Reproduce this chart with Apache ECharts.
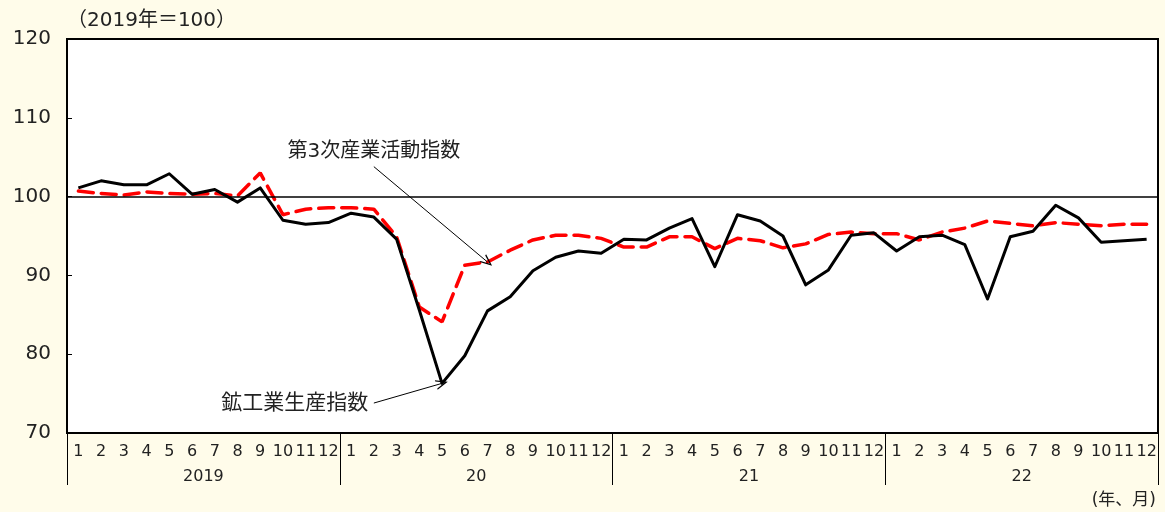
<!DOCTYPE html>
<html>
<head>
<meta charset="utf-8">
<script src="https://cdn.jsdelivr.net/npm/echarts@6/dist/echarts.min.js"></script>
<style>
  html, body { margin: 0; padding: 0; background: #FFFCEA; }
  #chart { width: 1165px; height: 512px; }
</style>
</head>
<body>
<div id="chart"></div>
<script>
// Monthly categories, 2019-01 .. 2022-12
const years = ['2019', '20', '21', '22'];
const monthLabels = ['1','2','3','4','5','6','7','8','9','10','11','12'];

// 鉱工業生産指数 (2019=100)
const iip = [
  101.1, 102.0, 101.5, 101.5, 102.9, 100.3, 100.9, 99.3, 101.1, 97.0, 96.5, 96.7,
  97.9, 97.4, 94.6, 85.6, 76.3, 79.8, 85.5, 87.3, 90.6, 92.3, 93.1, 92.8,
  94.6, 94.5, 96.0, 97.2, 91.1, 97.7, 96.9, 95.0, 88.8, 90.7, 95.1, 95.4,
  93.1, 94.9, 95.1, 93.9, 87.0, 94.9, 95.6, 98.9, 97.3, 94.2, 94.4, 94.6
];

// 第3次産業活動指数 (2019=100)
const ita = [
  100.7, 100.4, 100.2, 100.6, 100.4, 100.3, 100.4, 100.1, 103.0, 97.7, 98.4, 98.6,
  98.6, 98.4, 94.9, 86.0, 84.1, 91.3, 91.7, 93.2, 94.5, 95.1, 95.1, 94.7,
  93.6, 93.6, 94.9, 94.9, 93.4, 94.7, 94.4, 93.5, 94.0, 95.2, 95.5, 95.3,
  95.3, 94.5, 95.5, 96.0, 96.9, 96.6, 96.3, 96.7, 96.5, 96.3, 96.5, 96.5
];

const yTicks = { min: 70, max: 120, interval: 10 };

const categories = [];
years.forEach(y => monthLabels.forEach(m => categories.push(y + '-' + m)));

const FONT = '"DejaVu Sans", "Noto Sans CJK JP", sans-serif';
const TEXT = '#222';
const openArrow = 'path://M0,10 L5,0 L10,10 L8.6,10 L5,2.6 L1.4,10 Z';

const chart = echarts.init(document.getElementById('chart'));
chart.setOption({
  backgroundColor: '#FFFCEA',
  animation: false,
  textStyle: { fontFamily: FONT },
  title: [
    { text: '（2019年＝100）', left: 62, top: 6,
      textStyle: { fontSize: 20, fontWeight: 'normal', color: TEXT, fontFamily: FONT } },
    { text: '(年、月)', right: 4, top: 487,
      textStyle: { fontSize: 17, fontWeight: 'normal', color: TEXT, fontFamily: FONT } }
  ],
  grid: {
    left: 67, right: 7, top: 39, bottom: 79,
    show: true, backgroundColor: '#FFFFFF', borderColor: '#000', borderWidth: 2
  },
  xAxis: [
    {
      type: 'category',
      data: categories,
      boundaryGap: true,
      position: 'bottom',
      axisLine: { show: true, lineStyle: { color: '#000', width: 2 } },
      axisTick: { show: false },
      axisLabel: {
        interval: 0, margin: 11, fontSize: 16, color: TEXT, fontFamily: FONT,
        formatter: v => v.split('-')[1]
      },
      splitLine: { show: false }
    },
    {
      type: 'category',
      data: years,
      boundaryGap: true,
      position: 'bottom',
      offset: 0,
      axisLine: { show: false },
      axisTick: { show: true, length: 52, lineStyle: { color: '#000', width: 1 } },
      axisLabel: { interval: 0, margin: 36, fontSize: 16, color: TEXT, fontFamily: FONT },
      splitLine: { show: false }
    }
  ],
  yAxis: {
    type: 'value',
    min: yTicks.min, max: yTicks.max, interval: yTicks.interval,
    axisLine: { show: true, lineStyle: { color: '#000', width: 2 } },
    axisTick: { show: true, inside: true, length: 5, lineStyle: { color: '#000', width: 1 } },
    axisLabel: { fontSize: 20, color: TEXT, margin: 16, fontFamily: FONT },
    splitLine: { show: false }
  },
  series: [
    {
      name: '第3次産業活動指数',
      type: 'line',
      data: ita,
      showSymbol: false,
      symbol: 'none',
      z: 3,
      lineStyle: { color: '#FF0000', width: 3.5, type: [15, 8], cap: 'round' },
      markLine: {
        silent: true,
        symbol: ['none', openArrow],
        symbolSize: [10, 12],
        lineStyle: { color: '#000', width: 1, type: 'solid' },
        label: { show: false },
        data: [
          [{ coord: [13, 103.8] }, { coord: [18, 91.7] }]
        ]
      },
      markPoint: {
        silent: true,
        symbol: 'circle', symbolSize: 1,
        itemStyle: { color: 'rgba(0,0,0,0)' },
        label: {
          show: true, position: 'top', distance: 4,
          formatter: '第3次産業活動指数',
          fontSize: 20, color: TEXT, fontFamily: FONT
        },
        data: [{ coord: [13, 103.8] }]
      }
    },
    {
      name: '鉱工業生産指数',
      type: 'line',
      data: iip,
      showSymbol: false,
      symbol: 'none',
      z: 4,
      lineStyle: { color: '#000', width: 3, join: 'round' },
      markLine: {
        silent: true,
        symbol: ['none', 'none'],
        lineStyle: { color: '#000', width: 1.5, type: 'solid' },
        label: { show: false },
        data: [{ yAxis: 100 }]
      }
    },
    {
      name: '鉱工業生産指数注記',
      type: 'line',
      data: [],
      markLine: {
        silent: true,
        symbol: ['none', openArrow],
        symbolSize: [10, 12],
        lineStyle: { color: '#000', width: 1, type: 'solid', curveness: -0.12 },
        label: { show: false },
        data: [
          [{ coord: [13, 73.8] }, { coord: [16, 76.3] }]
        ]
      },
      markPoint: {
        silent: true,
        symbol: 'circle', symbolSize: 1,
        itemStyle: { color: 'rgba(0,0,0,0)' },
        label: {
          show: true, position: 'left', distance: 5,
          formatter: '鉱工業生産指数',
          fontSize: 21, color: TEXT, fontFamily: FONT
        },
        data: [{ coord: [13, 73.8] }]
      }
    }
  ]
});
</script>
</body>
</html>
